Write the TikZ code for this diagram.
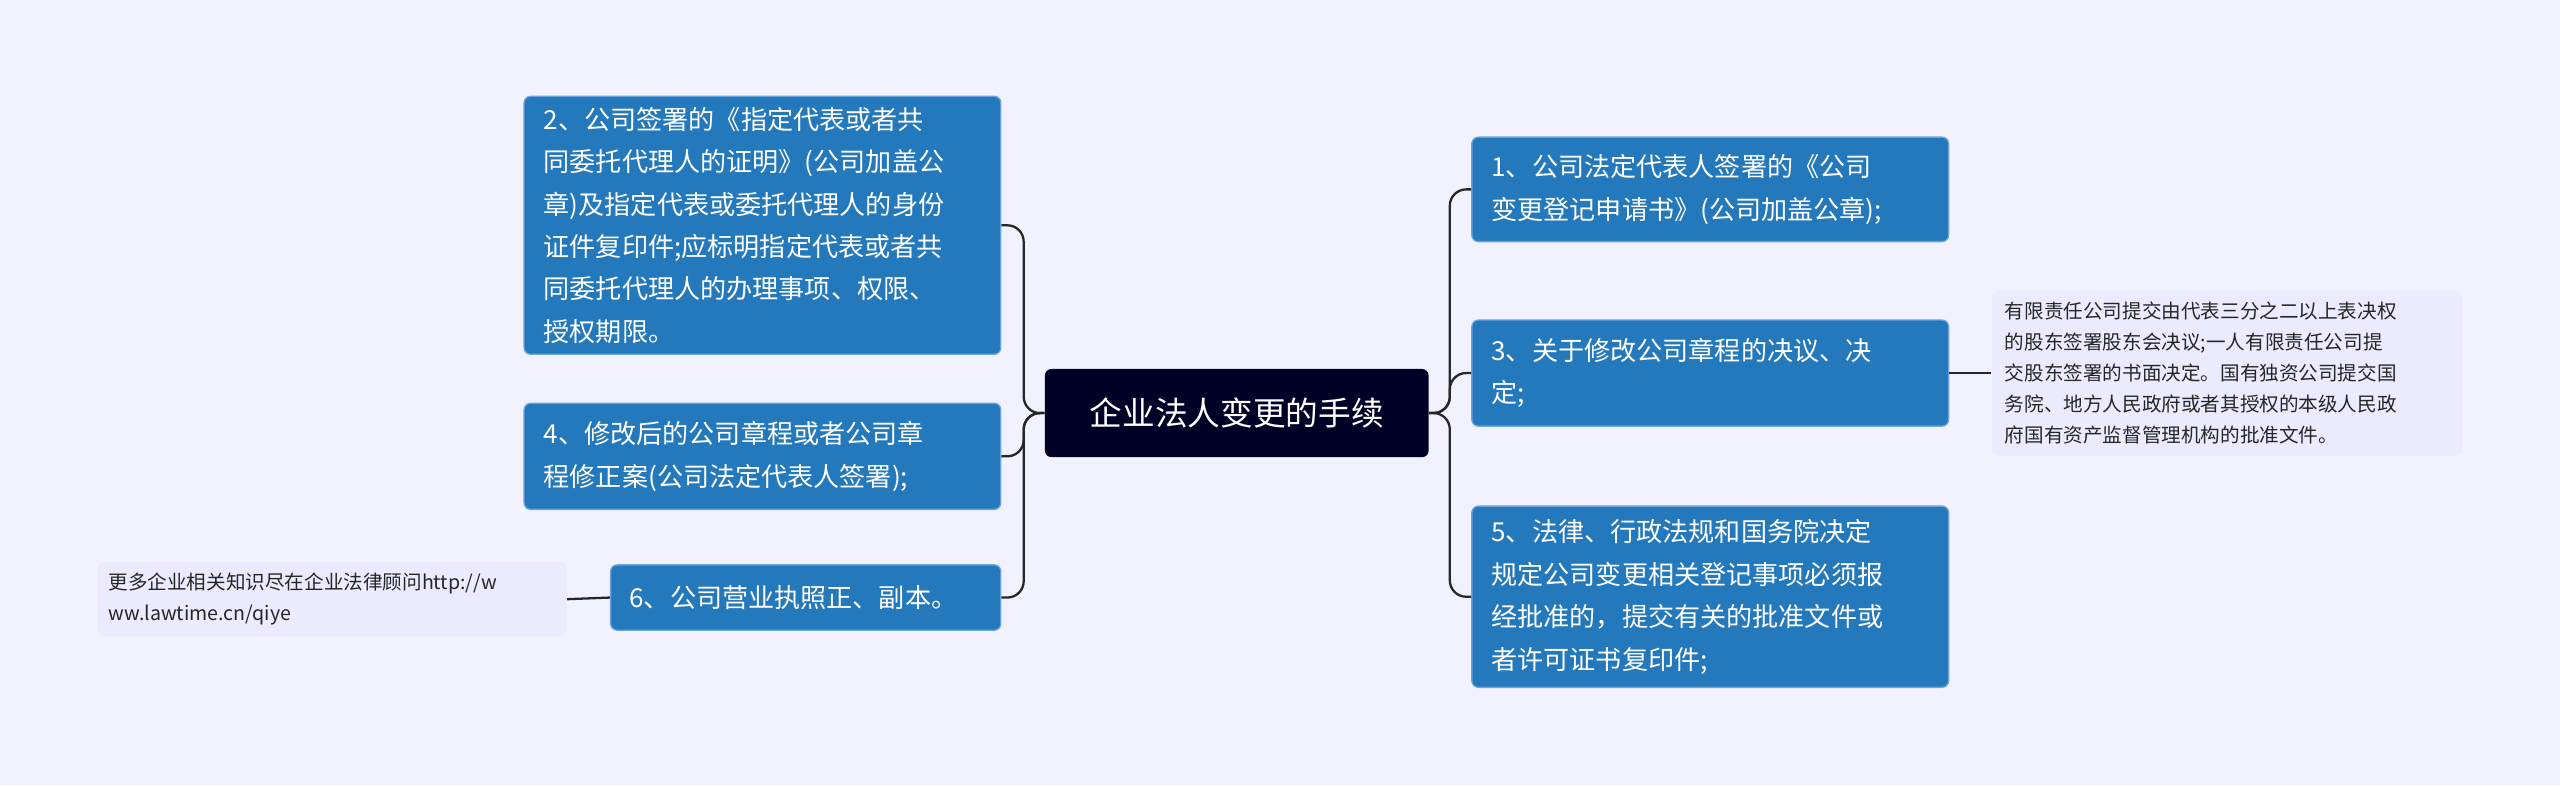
\documentclass[tikz,border=0pt]{standalone}
\usepackage{fontspec}
\setmainfont{Noto Sans CJK SC}
\begin{document}
\begin{tikzpicture}[x=0.5pt,y=-0.5pt,
  topic/.style={draw=none,fill=black!85!blue,rounded corners=2pt,text=white,font=\fontsize{10}{12}\selectfont,inner sep=0pt,minimum width=117.5pt,minimum height=27pt},
  subtopic/.style={draw=cyan!60!blue!60,fill=cyan!60!blue!90!black,rounded corners=2pt,text=white,font=\fontsize{8}{13}\selectfont,align=left,inner sep=0pt},
  note/.style={fill=blue!8,rounded corners=2pt,text=black!85,font=\fontsize{6}{9.5}\selectfont,align=left,inner sep=0pt},
  link/.style={draw=black!85,line width=0.7pt,rounded corners=5pt}]
\fill[blue!5!white] (0,0) rectangle (1568,481);
\node[topic] (main) at (757.5,253) {企业法人变更的手续};
\node[subtopic,minimum width=146pt,minimum height=32pt,text width=134pt] (r1) at (1047.5,116) {1、公司法定代表人签署的《公司\\变更登记申请书》(公司加盖公章);};
\node[subtopic,minimum width=146pt,minimum height=32.5pt,text width=134pt] (r3) at (1047.5,228.5) {3、关于修改公司章程的决议、决\\定;};
\node[subtopic,minimum width=146pt,minimum height=55.5pt,text width=134pt] (r5) at (1047.5,365.5) {5、法律、行政法规和国务院决定\\规定公司变更相关登记事项必须报\\经批准的，提交有关的批准文件或\\者许可证书复印件;};
\node[note,minimum width=144pt,minimum height=50.5pt,text width=136pt] (n3) at (1364,228.5) {有限责任公司提交由代表三分之二以上表决权\\的股东签署股东会决议;一人有限责任公司提\\交股东签署的书面决定。国有独资公司提交国\\务院、地方人民政府或者其授权的本级人民政\\府国有资产监督管理机构的批准文件。};
\node[subtopic,minimum width=146pt,minimum height=79pt,text width=134pt] (l2) at (467,138) {2、公司签署的《指定代表或者共\\同委托代理人的证明》(公司加盖公\\章)及指定代表或委托代理人的身份\\证件复印件;应标明指定代表或者共\\同委托代理人的办理事项、权限、\\授权期限。};
\node[subtopic,minimum width=146pt,minimum height=32.5pt,text width=134pt] (l4) at (467,279.5) {4、修改后的公司章程或者公司章\\程修正案(公司法定代表人签署);};
\node[subtopic,minimum width=119.5pt,minimum height=20pt,text width=108pt] (l6) at (493.5,366) {6、公司营业执照正、副本。};
\node[note,minimum width=143.5pt,minimum height=23pt,text width=137pt] (n6) at (203.5,367) {更多企业相关知识尽在企业法律顾问http://w\\ww.lawtime.cn/qiye};
\foreach \t in {r1,r3,r5}
  \draw[link] (main.east) -- (888,253) |- (\t.west);
\foreach \t in {l2,l4,l6}
  \draw[link] (main.west) -- (627,253) |- (\t.east);
\draw[link] (r3.east) -- (n3.west);
\draw[link] (l6.west) -- (n6.east);
\end{tikzpicture}
\end{document}
